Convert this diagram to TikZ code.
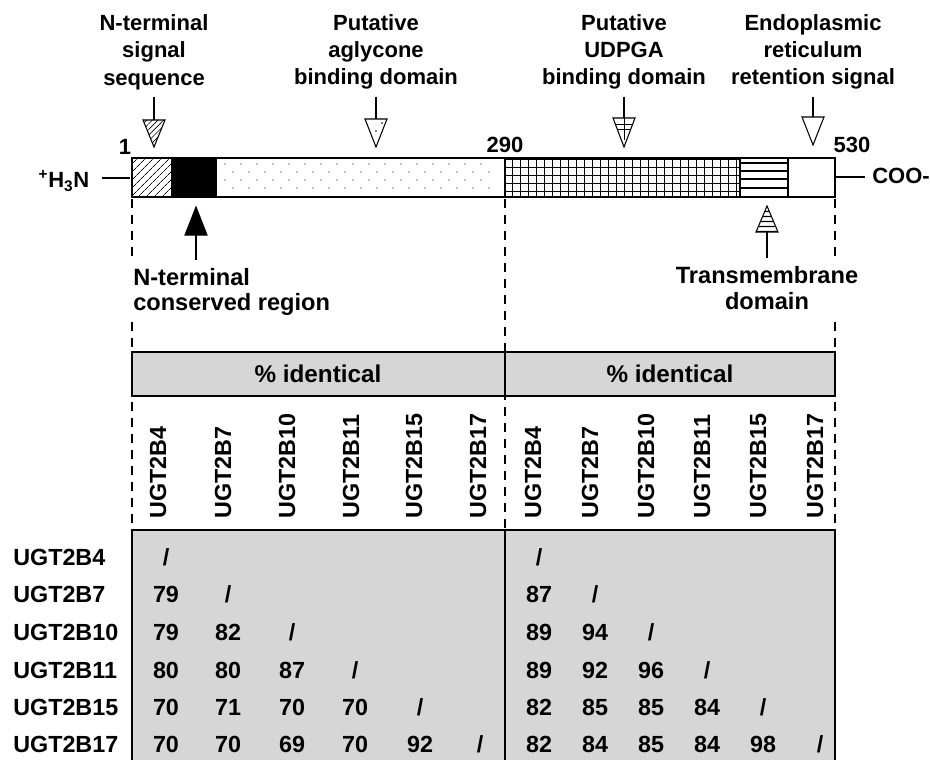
\documentclass[tikz,border=0pt]{standalone}
\usepackage{fontspec}
\setmainfont{Liberation Sans}
\usetikzlibrary{positioning, patterns.meta}

\begin{document}
\begin{tikzpicture}[x=0.75pt, y=-0.75pt]
        \tikzset{
            lab/.style={font=\fontsize{16.5}{20.5}\selectfont\bfseries, align=center, inner sep=0pt},
            lowlab/.style={lab, font=\fontsize{17.7}{19}\selectfont\bfseries},
            tab/.style={font=\fontsize{17.5}{20}\selectfont\bfseries, inner sep=0pt},
            bar/.style={draw, line width=1.5pt},
            guide/.style={dash pattern=on 7pt off 5pt, line width=0.9pt},
            tri/.style={draw, line width=0.8pt},
            frame/.style={draw, line width=1.1pt, fill=gray!32}
        }
        \useasboundingbox (0,0) rectangle (930,759);

        % Domain bar
        \path[pattern={Lines[angle=45, distance=4pt, line width=0.5pt]}] (132,158) rectangle (171,197);
        \fill (171,158) rectangle (217,197);
        \foreach \y/\s in {164/225, 172/233, 180/225, 188/233}
            \foreach \k in {0,...,16}
                \fill (\s+16*\k,\y) circle (0.55pt);
        \path[pattern={Hatch[angle=0, distance=6pt, line width=0.4pt]}] (505,158) rectangle (740,197);
        \foreach \y in {163,171,179,188}
            \draw[line width=1.4pt] (740,\y) -- (788,\y);
        \draw[bar] (132,158) rectangle (835,197);
        \draw[line width=2.2pt] (505,158) -- (505,197);
        \draw[line width=0.9pt] (740,158) -- (740,197) (788,158) -- (788,197);

        % Ends of the chain
        \node[lab] (nterm) at (64,181) {\textsuperscript{+}H\textsubscript{3}N};
        \node[lab, anchor=west] (cterm) at (872,176) {COO-};
        \coordinate (barL) at (130,178);
        \coordinate (barR) at (836,177);
        \draw[line width=1.5pt] ([xshift=9pt]nterm.east |- barL) -- (barL);
        \draw[line width=1.5pt] (barR) -- ([xshift=-5pt]cterm.west |- barR);

        % Residue numbers
        \node[lab] (res1) at (125,147) {1};
        \node[lab] (res290) at (505,145) {290};
        \node[lab] (res530) at (852,145) {530};

        % Labels above the bar
        \node[lab] (sig) at (154,52) {N-terminal\\signal\\sequence};
        \node[lab] (agly) at (376,52) {Putative\\aglycone\\binding domain};
        \node[lab] (udpga) at (624,52) {Putative\\UDPGA\\binding domain};
        \node[lab] (er) at (813,52) {Endoplasmic\\reticulum\\retention signal};

        \coordinate (sigtri) at (154,120);
        \coordinate (aglytri) at (376,119);
        \coordinate (udpgatri) at (624,118);
        \coordinate (ertri) at (813,117);

        \draw[tri] ([yshift=-5pt]sig.south) -- (sigtri);
        \draw[tri] ([yshift=-5pt]agly.south) -- (aglytri);
        \draw[tri] ([yshift=-5pt]udpga.south) -- (udpgatri);
        \draw[tri] ([yshift=-5pt]er.south) -- (ertri);

        \draw[tri, pattern={Lines[angle=45, distance=3pt, line width=0.5pt]}]
            (sigtri) ++(-11,0) -- ++(22,0) -- ++(-11,27) -- cycle;
        \draw[tri, fill=white] (aglytri) ++(-11,0) -- ++(22,0) -- ++(-11,28) -- cycle;
        \fill (376,131) circle (0.7pt) (382,123) circle (0.6pt);
        \draw[tri, fill=white] (udpgatri) ++(-11,0) -- ++(22,0) -- ++(-11,29) -- cycle;
        \draw[line width=0.5pt] (615,124) -- (633,124) (617,129) -- (631,129) (624,118) -- (624,140);
        \draw[tri, fill=white] (ertri) ++(-11,0) -- ++(22,0) -- ++(-11,28) -- cycle;

        % Labels below the bar
        \node[lowlab, align=left, anchor=west] (cons) at (133,292) {N-terminal\\conserved region};
        \node[lowlab] (tm) at (767,288) {Transmembrane\\domain};

        \coordinate (constri) at (196,235);
        \coordinate (tmtri) at (767,232);
        \draw[tri, fill=black] (constri) ++(-11,0) -- ++(22,0) -- ++(-11,-28) -- cycle;
        \draw[tri, pattern={Lines[angle=0, distance=4pt, line width=1.1pt]}]
            (tmtri) ++(-11,0) -- ++(22,0) -- ++(-11,-26) -- cycle;
        \draw[tri] (constri) -- ([yshift=6pt]constri |- cons.north);
        \draw[tri] (tmtri) -- ([yshift=6pt]tm.north);

        % Guides down to the table
        \draw[guide] (505,199) -- (505,530);
        \foreach \x in {132,835} {
            \draw[guide] (\x,199) -- (\x,260);
            \draw[guide] (\x,322) -- (\x,530);
        }

        % Header boxes
        \draw[frame] (132,352) rectangle (835,396);
        \draw[line width=1.1pt] (505,352) -- (505,396);
        \node[tab, font=\fontsize{18.2}{20}\selectfont\bfseries] (pctL) at (318,374) {\% identical};
        \node[tab, font=\fontsize{18.2}{20}\selectfont\bfseries] (pctR) at (670,374) {\% identical};

        % Column names
        \foreach \g/\x in {UGT2B4/158, UGT2B7/223, UGT2B10/287, UGT2B11/351, UGT2B15/414, UGT2B17/478}
            \node[tab, rotate=90, anchor=west] (colL\g) at (\x,519) {\g};
        \foreach \g/\x in {UGT2B4/533, UGT2B7/590, UGT2B10/646, UGT2B11/702, UGT2B15/758, UGT2B17/815}
            \node[tab, rotate=90, anchor=west] (colR\g) at (\x,519) {\g};

        % Table body
        \draw[frame] (132,530) rectangle (835,800);
        \draw[line width=1.1pt] (505,530) -- (505,800);

        \foreach \g/\y in {UGT2B4/557, UGT2B7/594, UGT2B10/632, UGT2B11/670, UGT2B15/707, UGT2B17/744}
            \node[tab, anchor=west] (row\g) at (13,\y) {\g};

        % Identity values, N-terminal half
        \foreach \vals [count=\r] in {{/}, {79,/}, {79,82,/}, {80,80,87,/}, {70,71,70,70,/}, {70,70,69,70,92,/}}
            \foreach \v [count=\c] in \vals {
                \pgfmathsetmacro\cx{{166,228,292,355,420,480}[\c-1]}
                \pgfmathsetmacro\cy{{557,594,632,670,707,744}[\r-1]}
                \node[tab] (L\r-\c) at (\cx,\cy) {\v};
            }

        % Identity values, C-terminal half
        \foreach \vals [count=\r] in {{/}, {87,/}, {89,94,/}, {89,92,96,/}, {82,85,85,84,/}, {82,84,85,84,98,/}}
            \foreach \v [count=\c] in \vals {
                \pgfmathsetmacro\cx{{539,595,651,707,763,820}[\c-1]}
                \pgfmathsetmacro\cy{{557,594,632,670,707,744}[\r-1]}
                \node[tab] (R\r-\c) at (\cx,\cy) {\v};
            }
\end{tikzpicture}
\end{document}
